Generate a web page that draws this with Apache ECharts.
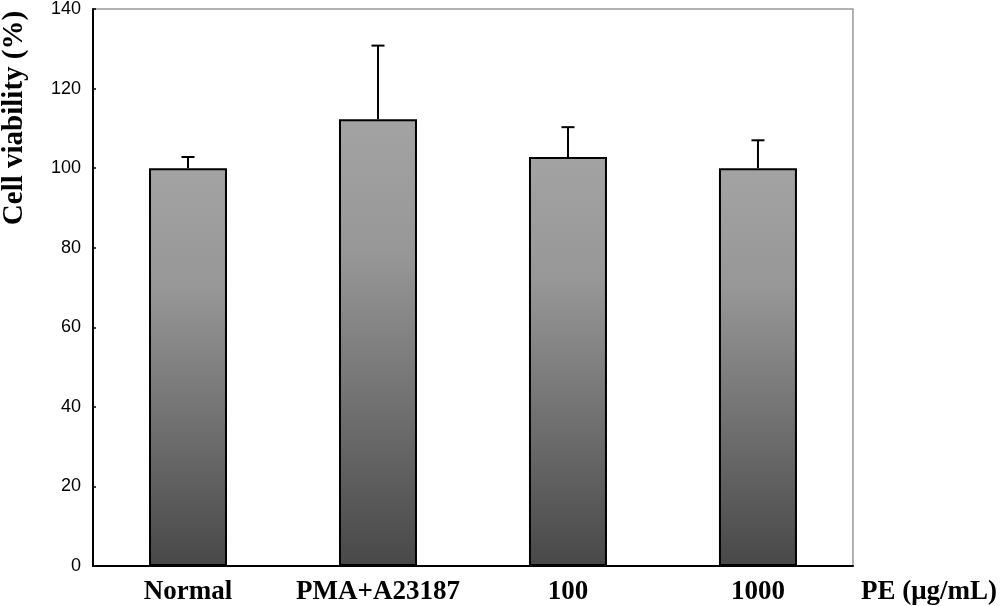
<!DOCTYPE html>
<html>
<head>
<meta charset="utf-8">
<script src="https://cdn.jsdelivr.net/npm/echarts@6/dist/echarts.min.js"></script>
<style>
    html, body { margin: 0; padding: 0; background: #fff; }
    #chart { width: 1000px; height: 606px; }
</style>
</head>
<body>
<div id="chart"></div>
<script>
// 数据
var categories = ['Normal', 'PMA+A23187', '100', '1000'];
var viability = [100, 112.3, 102.8, 100];
var errors = [2.8, 18.5, 7.5, 7];
var yTicks = [0, 20, 40, 60, 80, 100, 120, 140];

var serif = '"Liberation Serif", "DejaVu Serif", serif';
var sans = '"Liberation Sans", Arial, sans-serif';

var chart = echarts.init(document.getElementById('chart'));

// 误差线
var errData = categories.map(function (c, i) {
    return [i, viability[i], viability[i] + errors[i]];
});

var option = {
    animation: false,
    grid: {
        left: 93,
        right: 146,
        top: 8,
        bottom: 39,
        show: true,
        borderColor: '#999',
        borderWidth: 1.5,
        backgroundColor: 'transparent'
    },
    xAxis: {
        type: 'category',
        data: categories,
        name: 'PE (μg/mL)',
        nameLocation: 'end',
        nameGap: 8,
        nameTextStyle: {
            fontFamily: serif,
            fontWeight: 'bold',
            fontSize: 27,
            color: '#000',
            verticalAlign: 'top',
            padding: [13, 0, 0, 0]
        },
        axisLine: { lineStyle: { color: '#000', width: 2 } },
        axisTick: { inside: true, length: 4, lineStyle: { color: '#000', width: 1.5 } },
        axisLabel: {
            interval: 0,
            hideOverlap: false,
            margin: 13,
            fontFamily: serif,
            fontWeight: 'bold',
            fontSize: 27,
            color: '#000'
        },
        splitLine: { show: false }
    },
    yAxis: {
        type: 'value',
        min: yTicks[0],
        max: yTicks[yTicks.length - 1],
        interval: 20,
        axisLine: { show: true, lineStyle: { color: '#000', width: 2 } },
        axisTick: { show: true, inside: true, length: 3, lineStyle: { color: '#000', width: 1.5 } },
        axisLabel: {
            margin: 12,
            fontFamily: sans,
            fontSize: 18,
            color: '#000'
        },
        splitLine: { show: false }
    },
    graphic: [{
        type: 'text',
        x: 0,
        y: 118,
        rotation: Math.PI / 2,
        style: {
            text: 'Cell viability (%)',
            fontFamily: serif,
            fontWeight: 'bold',
            fontSize: 29,
            fill: '#000',
            align: 'center',
            verticalAlign: 'top'
        }
    }],
    series: [{
        type: 'bar',
        data: viability,
        barWidth: 78,
        itemStyle: {
            color: new echarts.graphic.LinearGradient(0, 0, 0, 1, [
                { offset: 0, color: '#a3a3a3' },
                { offset: 0.3, color: '#979797' },
                { offset: 1, color: '#484848' }
            ]),
            borderColor: '#000',
            borderWidth: 2
        },
        z: 2
    }, {
        type: 'custom',
        data: errData,
        z: 3,
        renderItem: function (params, api) {
            var base = api.coord([api.value(0), api.value(1)]);
            var top = api.coord([api.value(0), api.value(2)]);
            var half = 6.5;
            var st = { stroke: '#000', lineWidth: 2 };
            return {
                type: 'group',
                children: [{
                    type: 'line',
                    shape: { x1: base[0], y1: base[1], x2: top[0], y2: top[1] },
                    style: st
                }, {
                    type: 'line',
                    shape: { x1: top[0] - half, y1: top[1], x2: top[0] + half, y2: top[1] },
                    style: st
                }]
            };
        }
    }]
};

chart.setOption(option);
</script>
</body>
</html>
